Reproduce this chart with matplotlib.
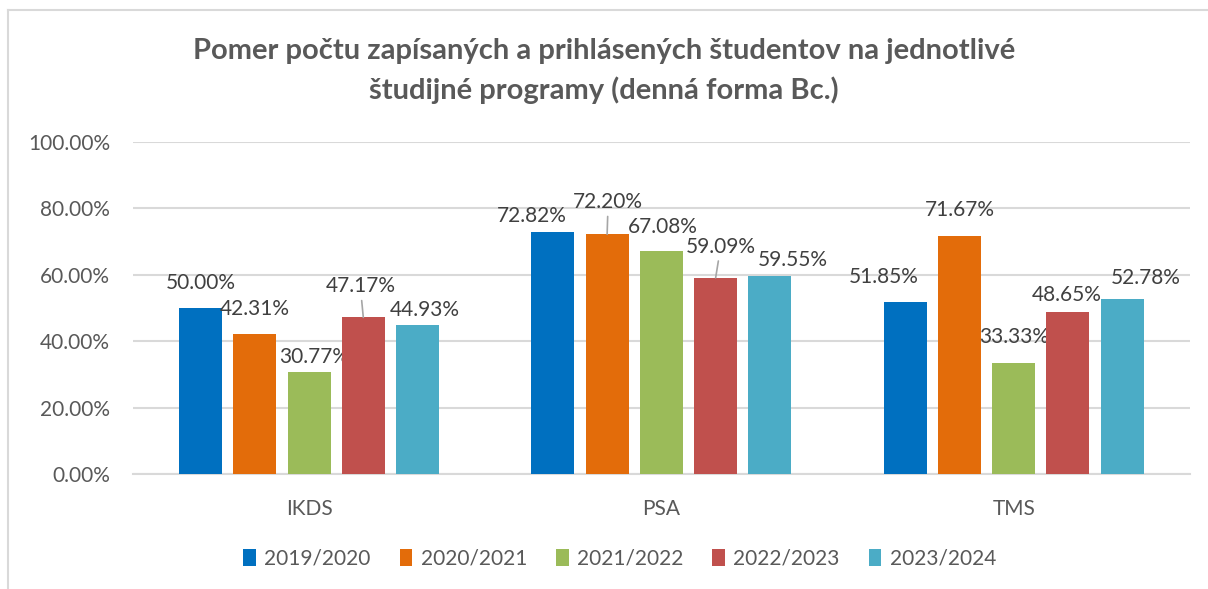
import numpy as np
import matplotlib.pyplot as plt
from matplotlib.lines import Line2D
from matplotlib.ticker import FuncFormatter

plt.rcParams['font.family'] = ['Lato', 'DejaVu Sans']

programs = ["IKDS", "PSA", "TMS"]
years = ["2019/2020", "2020/2021", "2021/2022", "2022/2023", "2023/2024"]
v_2019 = [50.00, 72.82, 51.85]
v_2020 = [42.31, 72.20, 71.67]
v_2021 = [30.77, 67.08, 33.33]
v_2022 = [47.17, 59.09, 48.65]
v_2023 = [44.93, 59.55, 52.78]
series = [v_2019, v_2020, v_2021, v_2022, v_2023]

colors = ["#0070C0", "#E36C0A", "#9BBB59", "#C0504D", "#4BACC6"]
text_col = "#595959"
grid_col = "#D9D9D9"

# label offsets in pixels (dx, dy to label centre), leader line flag
label_pos = [
    [(0, 25, False), (-21, 16, False), (-21, 25, False)],
    [(0, 25, False), (1, 32, True), (0, 26, False)],
    [(5, 15, False), (1, 24, False), (0, 26, False)],
    [(-3, 31, True), (5, 31, True), (-1, 17, False)],
    [(7, 15, False), (23, 16, False), (24, 21, False)],
]

fig = plt.figure(figsize=(12.08, 5.89), dpi=100)
ax = fig.add_axes([0.110, 0.1952, 0.875, 0.5637])

x = np.arange(len(programs))
width = 0.122
step = 0.154

for i, (vals, col) in enumerate(zip(series, colors)):
    pos = x + (i - 2) * step
    ax.bar(pos, vals, width, color=col, label=years[i], zorder=3)
    for j, v in enumerate(vals):
        dx, dy, leader = label_pos[i][j]
        if leader:
            ax.annotate(f"{v:.2f}%", xy=(pos[j], v), xytext=(dx, dy),
                        textcoords="offset pixels", ha="center", va="center",
                        fontsize=15, color="#404040",
                        arrowprops=dict(arrowstyle="-", color="#A6A6A6",
                                        lw=1.2, shrinkA=1, shrinkB=0))
        else:
            ax.annotate(f"{v:.2f}%", xy=(pos[j], v), xytext=(dx, dy),
                        textcoords="offset pixels", ha="center", va="center",
                        fontsize=15, color="#404040")

ax.set_xlim(-0.5, 2.5)
ax.set_ylim(0, 100)
ax.set_yticks(np.arange(0, 101, 20))
ax.yaxis.set_major_formatter(FuncFormatter(lambda v, p: f"{v:.2f}%"))
ax.set_xticks(x)
ax.set_xticklabels(programs)
ax.tick_params(axis="both", length=0, labelsize=15, colors=text_col)
ax.tick_params(axis="x", pad=18)
ax.tick_params(axis="y", pad=16.5)
ax.grid(axis="y", color=grid_col, lw=1.5, zorder=0)
for s in ["top", "right", "left"]:
    ax.spines[s].set_visible(False)
ax.spines["bottom"].set_color(grid_col)
ax.spines["bottom"].set_linewidth(1.5)

fig.text(0.5, 0.913, "Pomer počtu zapísaných a prihlásených študentov na jednotlivé",
         ha="center", va="center", fontsize=21, fontweight="bold", color=text_col)
fig.text(0.5, 0.847, "študijné programy (denná forma Bc.)",
         ha="center", va="center", fontsize=21, fontweight="bold", color=text_col)

fig.legend(loc="center", bbox_to_anchor=(0.513, 0.051), ncol=5, frameon=False,
           fontsize=15, labelcolor=text_col, handlelength=0.6, handleheight=0.9,
           handletextpad=0.4, columnspacing=1.4)

# chart border (left and top visible)
fig.add_artist(Line2D([0.0066, 0.0066], [0.0, 0.983], color=grid_col, lw=1.5))
fig.add_artist(Line2D([0.0066, 1.0], [0.983, 0.983], color=grid_col, lw=1.5))

fig.savefig("out.png", dpi=100)
